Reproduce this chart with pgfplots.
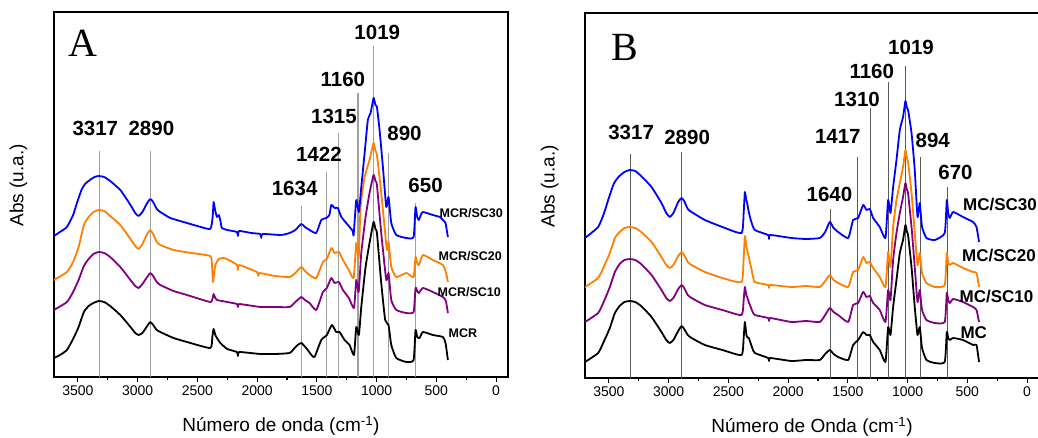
\documentclass[border=0pt]{standalone}
\usepackage{fontspec}
\setmainfont{Liberation Sans}
\newfontfamily\serifL{Liberation Serif}
\usepackage{pgfplots}
\pgfplotsset{compat=1.18}
\definecolor{cblue}{RGB}{0,0,255}
\definecolor{corange}{RGB}{255,128,0}
\definecolor{cpurple}{RGB}{128,0,128}
\tikzset{peak/.style={font=\fontsize{20.5}{22}\selectfont\bfseries, anchor=center}}
\pgfplotsset{ftir/.style={
  scale only axis, width=454pt, height=365pt,
  xmin=-100, xmax=3700, ymin=0, ymax=365,
  x dir=reverse,
  xtick={0,500,...,3500}, minor xtick={250,750,...,3250},
  ytick=\empty,
  tick align=outside, xtick pos=bottom,
  major tick length=5pt, minor tick length=3pt,
  every tick/.style={black, line width=1.1pt},
  axis line style={line width=1.6pt},
  /pgf/number format/assume math mode=true,
  /pgf/number format/1000 sep={},
  xticklabel style={font=\fontsize{14}{15}\selectfont},
  xlabel style={font=\fontsize{19}{21}\selectfont, at={(axis description cs:0.5,0)}, anchor=center, yshift=-49pt},
  ylabel style={font=\fontsize{19}{21}\selectfont, at={(axis description cs:-0.078,0.525)}, anchor=center},
  ylabel={Abs (u.a.)},
  spec/.style={line width=1.8pt, smooth, tension=0.3, line join=round},
}}
\begin{document}
\begin{tikzpicture}
\path[use as bounding box] (0pt,0pt) rectangle (1038pt,438pt);
% ---------------- Panel A ----------------
\begin{axis}[ftir, at={(54pt,61pt)}, anchor=south west,
  xlabel={Número de onda (cm\textsuperscript{-1})}]
\addplot[gray!75, line width=1.4pt] coordinates {(3317,0)(3317,226)};
\addplot[gray!75, line width=1.4pt] coordinates {(2890,0)(2890,226)};
\addplot[gray!75, line width=1.4pt] coordinates {(1630,0)(1630,171)};
\addplot[gray!75, line width=1.4pt] coordinates {(1421,0)(1421,205)};
\addplot[gray!75, line width=1.4pt] coordinates {(1318,0)(1318,244)};
\addplot[gray!75, line width=1.4pt] coordinates {(1156,0)(1156,284)};
\addplot[gray!75, line width=1.4pt] coordinates {(1025,0)(1025,331)};
\addplot[gray!75, line width=1.4pt] coordinates {(902,0)(902,224)};
\addplot[gray!75, line width=1.4pt] coordinates {(674,0)(674,174)};
% MCR
\addplot[black, spec] coordinates {(3700,19)(3650,22)(3592,27)(3540,38)(3494,50)(3450,65)(3410,71)(3370,74)(3326,76)(3280,75)(3230,71)(3145,62)(3060,50)(3020,44)(2992,42)(2960,44)(2920,51)(2894,55)(2870,52)(2840,47)(2810,45)(2700,39)(2587,35)(2392,29)(2375,40)(2364,48)(2350,42)(2336,39)(2308,34)(2250,28)(2169,25)(2160,21)(2150,25)(1973,23)(1850,23)(1728,24)(1686,29)(1660,32)(1630,34)(1589,29)(1545,22)(1519,20)(1463,37)(1416,42)(1374,52)(1338,45)(1310,45)(1268,37)(1226,32)(1189,22)(1170,50)(1148,42)(1128,70)(1092,110)(1059,134)(1025,155)(1010,148)(997,144)(961,94)(928,57)(900,52)(877,32)(835,19)(751,15)(690,17)(674,47)(660,40)(640,39)(612,45)(529,42)(445,40)(423,34)(403,17)};
% MCR/SC10
\addplot[cpurple, spec] coordinates {(3700,67)(3592,75)(3540,85)(3494,97)(3450,111)(3410,118)(3370,123)(3326,125)(3280,124)(3230,120)(3145,110)(3060,97)(3020,91)(2992,89)(2960,93)(2920,100)(2894,104)(2870,101)(2840,95)(2810,92)(2700,86)(2587,82)(2392,75)(2370,80)(2364,83)(2350,79)(2336,77)(2250,75)(2169,73)(2160,70)(2150,73)(1973,70)(1850,70)(1728,70)(1680,75)(1630,80)(1600,77)(1561,74)(1505,67)(1449,85)(1416,89)(1379,99)(1351,94)(1315,95)(1282,87)(1232,79)(1189,69)(1170,97)(1150,85)(1128,124)(1092,160)(1059,184)(1025,202)(1010,196)(997,192)(961,144)(919,97)(900,104)(877,77)(835,67)(751,64)(690,65)(674,89)(660,86)(646,84)(612,89)(529,85)(445,80)(420,76)(403,64)};
% MCR/SC20
\addplot[corange, spec] coordinates {(3700,97)(3592,105)(3540,115)(3494,130)(3450,152)(3410,160)(3370,165)(3326,167)(3280,166)(3230,161)(3145,152)(3060,138)(3020,131)(2992,128)(2960,133)(2920,143)(2894,147)(2870,143)(2840,135)(2810,132)(2700,127)(2550,124)(2392,121)(2378,112)(2370,95)(2360,104)(2350,112)(2320,118)(2280,119)(2220,116)(2169,112)(2160,107)(2150,112)(2002,105)(1990,101)(1980,104)(1850,101)(1728,100)(1680,104)(1630,110)(1600,106)(1561,102)(1505,99)(1449,115)(1416,118)(1379,129)(1351,124)(1315,125)(1282,117)(1232,107)(1192,99)(1170,134)(1150,119)(1134,170)(1100,200)(1059,217)(1025,234)(1010,226)(997,222)(961,184)(925,140)(914,127)(900,135)(877,110)(835,100)(751,104)(690,100)(674,120)(660,114)(646,112)(612,122)(529,117)(445,112)(418,104)(403,95)};
% MCR/SC30
\addplot[cblue, spec] coordinates {(3700,141)(3650,145)(3592,150)(3540,162)(3508,174)(3470,187)(3440,193)(3400,197)(3360,200)(3326,201)(3280,200)(3230,196)(3145,187)(3060,172)(3020,164)(2992,161)(2960,165)(2920,174)(2894,178)(2870,175)(2840,168)(2810,165)(2726,159)(2587,154)(2500,151)(2392,148)(2372,160)(2364,175)(2350,166)(2336,160)(2320,162)(2305,155)(2295,149)(2250,147)(2169,145)(2160,141)(2150,146)(2050,144)(1973,143)(1965,139)(1955,143)(1800,142)(1728,144)(1680,147)(1630,153)(1600,150)(1561,147)(1505,144)(1463,157)(1421,159)(1395,162)(1379,172)(1351,169)(1324,169)(1295,160)(1240,152)(1200,146)(1192,142)(1170,177)(1148,165)(1128,190)(1100,224)(1073,257)(1050,264)(1025,279)(1010,272)(997,270)(975,247)(947,210)(919,170)(900,180)(877,154)(835,142)(751,139)(690,140)(674,170)(660,160)(646,157)(630,162)(612,165)(529,162)(470,160)(445,157)(423,154)(410,145)(403,140)};
% peak labels
\node[peak] at (axis cs:3354,249) {3317};
\node[peak] at (axis cs:2885,249) {2890};
\node[peak] at (axis cs:1686,189) {1634};
\node[peak] at (axis cs:1483,223) {1422};
\node[peak] at (axis cs:1357,261) {1315};
\node[peak] at (axis cs:1282,298) {1160};
\node[peak] at (axis cs:994,345) {1019};
\node[peak] at (axis cs:766,244) {890};
\node[peak] at (axis cs:590,192) {650};
% series labels
\node[font=\fontsize{12.5}{14}\selectfont\bfseries] at (axis cs:208,164) {MCR/SC30};
\node[font=\fontsize{12.5}{14}\selectfont\bfseries] at (axis cs:216,121) {MCR/SC20};
\node[font=\fontsize{12.5}{14}\selectfont\bfseries] at (axis cs:224,85) {MCR/SC10};
\node[font=\fontsize{12.5}{14}\selectfont\bfseries] at (axis cs:278,44) {MCR};
\node[font=\fontsize{40}{42}\selectfont\serifL] at (axis cs:3458,334) {A};
\end{axis}
% ---------------- Panel B ----------------
\begin{axis}[ftir, at={(585pt,60pt)}, anchor=south west,
  xlabel={Número de Onda (cm\textsuperscript{-1})}]
\addplot[black!65, line width=1pt] coordinates {(3317,0)(3317,224)};
\addplot[black!65, line width=1pt] coordinates {(2890,0)(2890,226)};
\addplot[black!65, line width=1pt] coordinates {(1648,0)(1648,169)};
\addplot[black!65, line width=1pt] coordinates {(1417,0)(1417,221)};
\addplot[black!65, line width=1pt] coordinates {(1310,0)(1310,270)};
\addplot[black!65, line width=1pt] coordinates {(1160,0)(1160,296)};
\addplot[black!65, line width=1pt] coordinates {(1019,0)(1019,312)};
\addplot[black!65, line width=1pt] coordinates {(894,0)(894,221)};
\addplot[black!65, line width=1pt] coordinates {(670,0)(670,191)};
% MC
\addplot[black, spec] coordinates {(3700,16)(3590,25)(3540,37)(3492,50)(3450,65)(3410,72)(3370,76)(3325,77)(3280,76)(3230,72)(3143,61)(3060,46)(3020,38)(2990,35)(2960,38)(2920,47)(2892,52)(2870,49)(2840,43)(2808,40)(2697,33)(2550,28)(2390,23)(2372,40)(2362,56)(2350,44)(2343,41)(2329,40)(2300,30)(2279,25)(2167,20)(2160,17)(2150,20)(1972,17)(1850,18)(1735,18)(1690,24)(1651,28)(1620,24)(1581,21)(1497,18)(1456,33)(1414,38)(1372,46)(1344,43)(1316,43)(1288,36)(1233,28)(1185,16)(1163,51)(1143,43)(1121,71)(1093,98)(1065,125)(1038,138)(1018,153)(1005,146)(996,143)(967,111)(940,71)(917,43)(898,51)(879,30)(842,18)(772,15)(689,16)(672,46)(660,40)(647,38)(618,40)(536,38)(452,33)(423,33)(402,16)};
% MC/SC10
\addplot[cpurple, spec] coordinates {(3700,56)(3590,65)(3540,77)(3492,91)(3450,106)(3410,114)(3370,118)(3325,119)(3280,118)(3230,114)(3143,103)(3060,88)(3020,80)(2990,77)(2960,80)(2920,89)(2892,93)(2870,90)(2840,83)(2808,80)(2697,73)(2550,68)(2390,63)(2372,78)(2362,91)(2350,83)(2343,81)(2329,76)(2300,67)(2279,63)(2167,60)(2160,57)(2150,60)(1972,56)(1850,57)(1735,56)(1690,63)(1651,70)(1620,66)(1581,63)(1497,56)(1456,73)(1414,75)(1372,86)(1344,81)(1316,82)(1288,75)(1233,68)(1185,56)(1163,88)(1143,78)(1121,118)(1093,145)(1065,165)(1038,181)(1018,195)(1005,188)(996,185)(967,151)(940,111)(917,76)(898,88)(879,68)(842,58)(772,55)(689,56)(672,85)(660,78)(647,75)(618,79)(536,76)(452,71)(423,68)(402,56)};
% MC/SC20
\addplot[corange, spec] coordinates {(3700,91)(3590,100)(3540,112)(3492,125)(3450,140)(3410,146)(3370,150)(3325,151)(3280,150)(3230,146)(3143,136)(3060,121)(3020,113)(2990,110)(2960,113)(2920,122)(2892,126)(2870,123)(2840,116)(2808,113)(2697,106)(2550,100)(2390,96)(2372,120)(2362,142)(2350,132)(2343,128)(2329,121)(2300,105)(2279,96)(2167,93)(2160,90)(2150,93)(1972,91)(1850,92)(1735,91)(1690,97)(1651,103)(1620,98)(1581,95)(1497,91)(1456,106)(1414,108)(1372,121)(1344,115)(1316,116)(1288,110)(1233,101)(1185,91)(1163,126)(1143,111)(1121,151)(1093,178)(1065,195)(1038,211)(1018,228)(1005,220)(996,216)(967,185)(940,145)(917,113)(898,125)(879,105)(842,95)(772,91)(689,93)(672,125)(660,115)(647,113)(618,115)(536,110)(452,106)(423,105)(402,91)};
% MC/SC30
\addplot[cblue, spec] coordinates {(3700,140)(3590,151)(3540,165)(3506,178)(3460,194)(3420,201)(3370,206)(3325,208)(3280,207)(3230,202)(3143,191)(3060,175)(3020,165)(2990,161)(2960,165)(2920,176)(2892,180)(2870,177)(2840,169)(2808,166)(2697,158)(2550,151)(2390,145)(2372,165)(2362,186)(2350,178)(2343,175)(2329,166)(2310,157)(2279,148)(2167,143)(2160,139)(2150,143)(1972,140)(1850,139)(1735,140)(1690,146)(1651,156)(1620,150)(1581,146)(1497,140)(1456,158)(1414,160)(1372,173)(1344,168)(1316,169)(1288,160)(1233,151)(1185,140)(1163,178)(1143,165)(1121,191)(1093,218)(1065,248)(1038,261)(1018,277)(1005,270)(996,268)(967,245)(940,208)(917,161)(898,175)(879,151)(842,140)(772,138)(689,145)(672,178)(660,165)(647,160)(618,166)(536,161)(452,156)(423,151)(402,136)};
\node[peak] at (axis cs:3314,246) {3317};
\node[peak] at (axis cs:2845,241) {2890};
\node[peak] at (axis cs:1654,184) {1640};
\node[peak] at (axis cs:1584,242) {1417};
\node[peak] at (axis cs:1423,279) {1310};
\node[peak] at (axis cs:1300,307) {1160};
\node[peak] at (axis cs:971,331) {1019};
\node[peak] at (axis cs:789,238) {894};
\node[peak] at (axis cs:599,206) {670};
\node[font=\fontsize{17}{19}\selectfont\bfseries] at (axis cs:227,173) {MC/SC30};
\node[font=\fontsize{17}{19}\selectfont\bfseries] at (axis cs:235,122) {MC/SC20};
\node[font=\fontsize{17}{19}\selectfont\bfseries] at (axis cs:256,81) {MC/SC10};
\node[font=\fontsize{17}{19}\selectfont\bfseries] at (axis cs:446,45) {MC};
\node[font=\fontsize{40}{42}\selectfont\serifL] at (axis cs:3364,331) {B};
\end{axis}
\end{tikzpicture}
\end{document}
